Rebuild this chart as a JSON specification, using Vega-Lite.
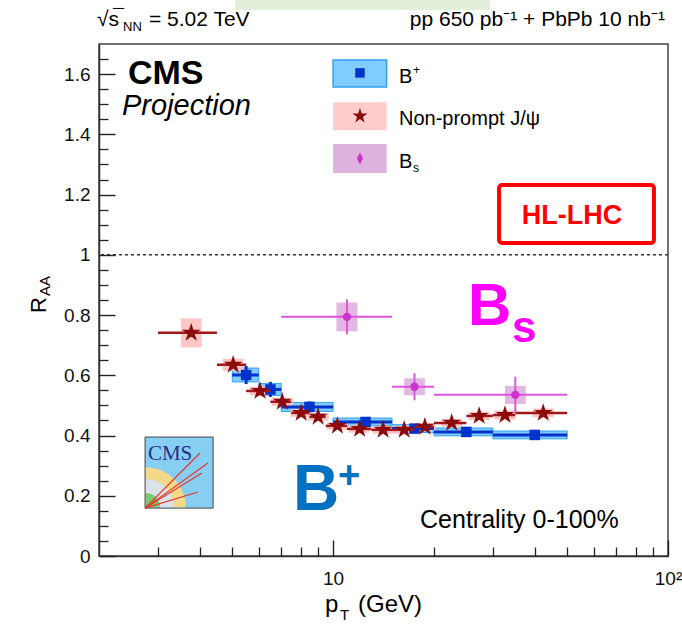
{
"$schema":"https://vega.github.io/schema/vega-lite/v6.json",
"width":569,"height":512,
"autosize":{"type":"none"},
"padding":{"left":99,"top":44,"right":14,"bottom":70},
"background":"white",
"config":{"view":{"stroke":"#444","strokeWidth":1.5},"font":"Liberation Sans"},
"data":{"values":[{}]},
"datasets":{
"bplus":[
{"pt":5.5,"lo":5,"hi":6,"y":0.601,"stat_lo":0.571,"stat_hi":0.631,"sys_lo":0.578,"sys_hi":0.624},
{"pt":6.5,"lo":6,"hi":7,"y":0.553,"stat_lo":0.528,"stat_hi":0.578,"sys_lo":0.533,"sys_hi":0.573},
{"pt":8.5,"lo":7,"hi":10,"y":0.495,"stat_lo":0.477,"stat_hi":0.513,"sys_lo":0.480,"sys_hi":0.510},
{"pt":12.5,"lo":10,"hi":15,"y":0.445,"stat_lo":0.433,"stat_hi":0.457,"sys_lo":0.432,"sys_hi":0.458},
{"pt":17.5,"lo":15,"hi":20,"y":0.423,"stat_lo":0.412,"stat_hi":0.434,"sys_lo":0.410,"sys_hi":0.436},
{"pt":25,"lo":20,"hi":30,"y":0.412,"stat_lo":0.401,"stat_hi":0.423,"sys_lo":0.399,"sys_hi":0.425},
{"pt":40,"lo":30,"hi":50,"y":0.402,"stat_lo":0.386,"stat_hi":0.418,"sys_lo":0.389,"sys_hi":0.415}
],
"jpsi":[
{"pt":3.77,"lo":3.0,"hi":4.5,"y":0.741,"stat_lo":0.728,"stat_hi":0.754,"sys_lo":0.693,"sys_hi":0.789,"box_lo":3.51,"box_hi":4.05},
{"pt":5.03,"lo":4.5,"hi":5.5,"y":0.635,"stat_lo":0.625,"stat_hi":0.645,"sys_lo":0.615,"sys_hi":0.655,"box_lo":4.68,"box_hi":5.41},
{"pt":6.05,"lo":5.5,"hi":6.5,"y":0.548,"stat_lo":0.539,"stat_hi":0.557,"sys_lo":0.533,"sys_hi":0.563,"box_lo":5.63,"box_hi":6.5},
{"pt":7.05,"lo":6.5,"hi":7.5,"y":0.512,"stat_lo":0.504,"stat_hi":0.520,"sys_lo":0.498,"sys_hi":0.526,"box_lo":6.56,"box_hi":7.58},
{"pt":8.03,"lo":7.5,"hi":8.5,"y":0.475,"stat_lo":0.467,"stat_hi":0.483,"sys_lo":0.462,"sys_hi":0.488,"box_lo":7.47,"box_hi":8.63},
{"pt":9.02,"lo":8.5,"hi":9.5,"y":0.462,"stat_lo":0.455,"stat_hi":0.469,"sys_lo":0.449,"sys_hi":0.475,"box_lo":8.39,"box_hi":9.7},
{"pt":10.3,"lo":9.5,"hi":11,"y":0.432,"stat_lo":0.425,"stat_hi":0.439,"sys_lo":0.419,"sys_hi":0.445,"box_lo":9.58,"box_hi":11.07},
{"pt":12.0,"lo":11,"hi":13,"y":0.422,"stat_lo":0.415,"stat_hi":0.429,"sys_lo":0.409,"sys_hi":0.435,"box_lo":11.16,"box_hi":12.9},
{"pt":14.1,"lo":13,"hi":15,"y":0.419,"stat_lo":0.412,"stat_hi":0.426,"sys_lo":0.406,"sys_hi":0.432,"box_lo":13.1,"box_hi":15.2},
{"pt":16.3,"lo":15,"hi":17.5,"y":0.419,"stat_lo":0.412,"stat_hi":0.426,"sys_lo":0.406,"sys_hi":0.432,"box_lo":15.2,"box_hi":17.5},
{"pt":18.8,"lo":17.5,"hi":20,"y":0.429,"stat_lo":0.421,"stat_hi":0.437,"sys_lo":0.416,"sys_hi":0.442,"box_lo":17.5,"box_hi":20.2},
{"pt":22.6,"lo":20,"hi":25,"y":0.442,"stat_lo":0.434,"stat_hi":0.450,"sys_lo":0.429,"sys_hi":0.455,"box_lo":21.0,"box_hi":24.3},
{"pt":27.3,"lo":25,"hi":30,"y":0.465,"stat_lo":0.456,"stat_hi":0.474,"sys_lo":0.451,"sys_hi":0.479,"box_lo":25.4,"box_hi":29.3},
{"pt":32.6,"lo":30,"hi":35,"y":0.468,"stat_lo":0.458,"stat_hi":0.478,"sys_lo":0.453,"sys_hi":0.483,"box_lo":30.3,"box_hi":35.0},
{"pt":42.4,"lo":35,"hi":50,"y":0.475,"stat_lo":0.463,"stat_hi":0.487,"sys_lo":0.460,"sys_hi":0.490,"box_lo":39.4,"box_hi":45.6}
],
"bs":[
{"pt":11,"lo":7,"hi":15,"y":0.794,"stat_lo":0.736,"stat_hi":0.852,"sys_lo":0.746,"sys_hi":0.842,"box_lo":10.23,"box_hi":11.83},
{"pt":17.5,"lo":15,"hi":20,"y":0.562,"stat_lo":0.517,"stat_hi":0.607,"sys_lo":0.534,"sys_hi":0.590,"box_lo":16.3,"box_hi":18.8},
{"pt":35,"lo":20,"hi":50,"y":0.535,"stat_lo":0.475,"stat_hi":0.595,"sys_lo":0.505,"sys_hi":0.565,"box_lo":32.6,"box_hi":37.6}
],
"tracks":[
{"x0":2.745,"y0":0.159,"x1":4.005,"y1":0.342},
{"x0":2.745,"y0":0.159,"x1":4.23,"y1":0.309},
{"x0":2.745,"y0":0.159,"x1":4.06,"y1":0.2756},
{"x0":2.745,"y0":0.159,"x1":3.95,"y1":0.2125}
]
},
"resolve":{"axis":{"x":"independent","y":"independent"}},
"layer":[
{"mark":{"type":"rect","fill":"#E2EFDA"},"encoding":{"x":{"datum":5.1,"type":"quantitative","scale":{"type":"log","domain":[2,100],"nice":false},"axis":null},"x2":{"datum":29.4},"y":{"datum":1.846,"type":"quantitative","scale":{"domain":[0,1.7],"nice":false,"zero":false},"axis":null},"y2":{"datum":1.813}}},
{"data":{"name":"bplus"},"mark":{"type":"rect","fill":"#80CCFF","stroke":"#30A0F0","strokeWidth":1},"encoding":{"x":{"field":"lo","type":"quantitative","scale":{"type":"log","domain":[2,100],"nice":false},"axis":null},"x2":{"field":"hi"},"y":{"field":"sys_lo","type":"quantitative","scale":{"domain":[0,1.7],"nice":false,"zero":false},"axis":null},"y2":{"field":"sys_hi"}}},
{"data":{"name":"jpsi"},"mark":{"type":"rect","fill":"#FFC0C0","opacity":0.9},"encoding":{"x":{"field":"box_lo","type":"quantitative","scale":{"type":"log","domain":[2,100],"nice":false},"axis":null},"x2":{"field":"box_hi"},"y":{"field":"sys_lo","type":"quantitative","scale":{"domain":[0,1.7],"nice":false,"zero":false},"axis":null},"y2":{"field":"sys_hi"}}},
{"data":{"name":"bs"},"mark":{"type":"rect","fill":"#DDAADD","opacity":0.85},"encoding":{"x":{"field":"box_lo","type":"quantitative","scale":{"type":"log","domain":[2,100],"nice":false},"axis":null},"x2":{"field":"box_hi"},"y":{"field":"sys_lo","type":"quantitative","scale":{"domain":[0,1.7],"nice":false,"zero":false},"axis":null},"y2":{"field":"sys_hi"}}},
{"mark":{"type":"rule","color":"#333","strokeDash":[3,3],"strokeWidth":1.5},"encoding":{"y":{"datum":1,"type":"quantitative","scale":{"domain":[0,1.7],"nice":false,"zero":false},"axis":null}}},
{"data":{"name":"bplus"},"mark":{"type":"rule","color":"#0033CC","strokeWidth":3},"encoding":{"x":{"field":"lo","type":"quantitative","scale":{"type":"log","domain":[2,100],"nice":false},"axis":null},"x2":{"field":"hi"},"y":{"field":"y","type":"quantitative","scale":{"domain":[0,1.7],"nice":false,"zero":false},"axis":null}}},
{"data":{"name":"bplus"},"mark":{"type":"rule","color":"#0033CC","strokeWidth":3},"encoding":{"x":{"field":"pt","type":"quantitative","scale":{"type":"log","domain":[2,100],"nice":false},"axis":null},"y":{"field":"stat_lo","type":"quantitative","scale":{"domain":[0,1.7],"nice":false,"zero":false},"axis":null},"y2":{"field":"stat_hi"}}},
{"data":{"name":"bplus"},"mark":{"type":"point","shape":"square","filled":true,"size":110,"color":"#0033CC","opacity":1},"encoding":{"x":{"field":"pt","type":"quantitative","scale":{"type":"log","domain":[2,100],"nice":false},"axis":null},"y":{"field":"y","type":"quantitative","scale":{"domain":[0,1.7],"nice":false,"zero":false},"axis":null}}},
{"data":{"name":"jpsi"},"mark":{"type":"rule","color":"#A01818","strokeWidth":2.5},"encoding":{"x":{"field":"lo","type":"quantitative","scale":{"type":"log","domain":[2,100],"nice":false},"axis":null},"x2":{"field":"hi"},"y":{"field":"y","type":"quantitative","scale":{"domain":[0,1.7],"nice":false,"zero":false},"axis":null}}},
{"data":{"name":"jpsi"},"mark":{"type":"rule","color":"#A01818","strokeWidth":2.5},"encoding":{"x":{"field":"pt","type":"quantitative","scale":{"type":"log","domain":[2,100],"nice":false},"axis":null},"y":{"field":"stat_lo","type":"quantitative","scale":{"domain":[0,1.7],"nice":false,"zero":false},"axis":null},"y2":{"field":"stat_hi"}}},
{"data":{"name":"jpsi"},"mark":{"type":"point","shape":"M0,-1L0.2245,-0.309L0.951,-0.309L0.3633,0.118L0.5878,0.809L0,0.382L-0.5878,0.809L-0.3633,0.118L-0.951,-0.309L-0.2245,-0.309Z","filled":true,"size":380,"color":"#8B0A0A","opacity":1},"encoding":{"x":{"field":"pt","type":"quantitative","scale":{"type":"log","domain":[2,100],"nice":false},"axis":null},"y":{"field":"y","type":"quantitative","scale":{"domain":[0,1.7],"nice":false,"zero":false},"axis":null}}},
{"data":{"name":"bs"},"mark":{"type":"rule","color":"#DD55DD","strokeWidth":2},"encoding":{"x":{"field":"lo","type":"quantitative","scale":{"type":"log","domain":[2,100],"nice":false},"axis":null},"x2":{"field":"hi"},"y":{"field":"y","type":"quantitative","scale":{"domain":[0,1.7],"nice":false,"zero":false},"axis":null}}},
{"data":{"name":"bs"},"mark":{"type":"rule","color":"#DD55DD","strokeWidth":2},"encoding":{"x":{"field":"pt","type":"quantitative","scale":{"type":"log","domain":[2,100],"nice":false},"axis":null},"y":{"field":"stat_lo","type":"quantitative","scale":{"domain":[0,1.7],"nice":false,"zero":false},"axis":null},"y2":{"field":"stat_hi"}}},
{"data":{"name":"bs"},"mark":{"type":"point","shape":"circle","filled":true,"size":70,"color":"#CC33CC","opacity":1},"encoding":{"x":{"field":"pt","type":"quantitative","scale":{"type":"log","domain":[2,100],"nice":false},"axis":null},"y":{"field":"y","type":"quantitative","scale":{"domain":[0,1.7],"nice":false,"zero":false},"axis":null}}},
{"data":{"name":"bs"},"mark":{"type":"point","opacity":0},"encoding":{"x":{"field":"pt","type":"quantitative","scale":{"type":"log","domain":[2,100],"nice":false},"axis":{"orient":"bottom","values":[10,100],"labelExpr":"datum.value >= 100 ? '10²' : '10'","title":null,"grid":false,"ticks":false,"tickSize":0,"domainColor":"#333","domainWidth":1.5,"labelPadding":13,"labelFontSize":19,"labelFont":"Liberation Sans","labelColor":"#111","labelFlush":false,"labelOverlap":false}},"y":{"field":"y","type":"quantitative","scale":{"domain":[0,1.7],"nice":false,"zero":false},"axis":{"orient":"left","values":[0,0.2,0.4,0.6,0.8,1,1.2,1.4,1.6],"format":"~g","title":null,"grid":false,"ticks":false,"tickSize":0,"domainColor":"#333","domainWidth":1.5,"labelPadding":9,"labelFontSize":19,"labelFont":"Liberation Sans","labelColor":"#111","labelFlush":false,"labelOverlap":false}}}},
{"data":{"name":"bs"},"mark":{"type":"point","opacity":0},"encoding":{"x":{"field":"pt","type":"quantitative","scale":{"type":"log","domain":[2,100],"nice":false},"axis":{"orient":"top","offset":-512,"values":[10,100],"labels":false,"domain":false,"title":null,"grid":false,"zindex":2,"tickSize":16,"tickWidth":1.4,"tickColor":"#222"}},"y":{"field":"y","type":"quantitative","scale":{"domain":[0,1.7],"nice":false,"zero":false},"axis":{"orient":"right","offset":-569,"values":[0,0.2,0.4,0.6,0.8,1,1.2,1.4,1.6],"labels":false,"domain":false,"title":null,"grid":false,"zindex":2,"tickSize":16,"tickWidth":1.4,"tickColor":"#222"}}}},
{"data":{"name":"bs"},"mark":{"type":"point","opacity":0},"encoding":{"x":{"field":"pt","type":"quantitative","scale":{"type":"log","domain":[2,100],"nice":false},"axis":{"orient":"top","offset":-512,"values":[3,4,5,6,7,8,9,20,30,40,50,60,70,80,90],"labels":false,"domain":false,"title":null,"grid":false,"zindex":2,"tickSize":9,"tickWidth":1.3,"tickColor":"#222"}},"y":{"field":"y","type":"quantitative","scale":{"domain":[0,1.7],"nice":false,"zero":false},"axis":{"orient":"right","offset":-569,"values":[0.05,0.1,0.15,0.25,0.3,0.35,0.45,0.5,0.55,0.65,0.7,0.75,0.85,0.9,0.95,1.05,1.1,1.15,1.25,1.3,1.35,1.45,1.5,1.55,1.65],"labels":false,"domain":false,"title":null,"grid":false,"zindex":2,"tickSize":9,"tickWidth":1.3,"tickColor":"#222"}}}},
{"mark":{"type":"text","text":"CMS","fontSize":34,"fontWeight":"bold","align":"left","baseline":"alphabetic","color":"#000"},"encoding":{"x":{"datum":2.44,"type":"quantitative","scale":{"type":"log","domain":[2,100],"nice":false},"axis":null},"y":{"datum":1.567,"type":"quantitative","scale":{"domain":[0,1.7],"nice":false,"zero":false},"axis":null}}},
{"mark":{"type":"text","text":"Projection","fontSize":29,"fontStyle":"italic","align":"left","baseline":"alphabetic","color":"#000"},"encoding":{"x":{"datum":2.343,"type":"quantitative","scale":{"type":"log","domain":[2,100],"nice":false},"axis":null},"y":{"datum":1.464,"type":"quantitative","scale":{"domain":[0,1.7],"nice":false,"zero":false},"axis":null}}},
{"mark":{"type":"rect","fill":"#80CCFF","stroke":"#30A0F0","strokeWidth":1.5},"encoding":{"x":{"datum":10.0,"type":"quantitative","scale":{"type":"log","domain":[2,100],"nice":false},"axis":null},"x2":{"datum":14.45},"y":{"datum":1.557,"type":"quantitative","scale":{"domain":[0,1.7],"nice":false,"zero":false},"axis":null},"y2":{"datum":1.647}}},
{"mark":{"type":"rect","fill":"#FFCCCC"},"encoding":{"x":{"datum":10.0,"type":"quantitative","scale":{"type":"log","domain":[2,100],"nice":false},"axis":null},"x2":{"datum":14.45},"y":{"datum":1.414,"type":"quantitative","scale":{"domain":[0,1.7],"nice":false,"zero":false},"axis":null},"y2":{"datum":1.507}}},
{"mark":{"type":"rect","fill":"#DDB3DD"},"encoding":{"x":{"datum":10.0,"type":"quantitative","scale":{"type":"log","domain":[2,100],"nice":false},"axis":null},"x2":{"datum":14.45},"y":{"datum":1.272,"type":"quantitative","scale":{"domain":[0,1.7],"nice":false,"zero":false},"axis":null},"y2":{"datum":1.368}}},
{"mark":{"type":"point","shape":"square","filled":true,"size":90,"color":"#0033CC","opacity":1},"encoding":{"x":{"datum":12.03,"type":"quantitative","scale":{"type":"log","domain":[2,100],"nice":false},"axis":null},"y":{"datum":1.604,"type":"quantitative","scale":{"domain":[0,1.7],"nice":false,"zero":false},"axis":null}}},
{"mark":{"type":"point","shape":"M0,-1L0.2245,-0.309L0.951,-0.309L0.3633,0.118L0.5878,0.809L0,0.382L-0.5878,0.809L-0.3633,0.118L-0.951,-0.309L-0.2245,-0.309Z","filled":true,"size":250,"color":"#8B0A0A","opacity":1},"encoding":{"x":{"datum":12.03,"type":"quantitative","scale":{"type":"log","domain":[2,100],"nice":false},"axis":null},"y":{"datum":1.461,"type":"quantitative","scale":{"domain":[0,1.7],"nice":false,"zero":false},"axis":null}}},
{"mark":{"type":"point","shape":"M0,-1L0.5,0L0,1L-0.5,0Z","filled":true,"size":150,"color":"#CC33CC","opacity":1},"encoding":{"x":{"datum":12.03,"type":"quantitative","scale":{"type":"log","domain":[2,100],"nice":false},"axis":null},"y":{"datum":1.320,"type":"quantitative","scale":{"domain":[0,1.7],"nice":false,"zero":false},"axis":null}}},
{"mark":{"type":"text","text":"B","fontSize":20,"align":"left","baseline":"alphabetic","color":"#000"},"encoding":{"x":{"datum":15.73,"type":"quantitative","scale":{"type":"log","domain":[2,100],"nice":false},"axis":null},"y":{"datum":1.570,"type":"quantitative","scale":{"domain":[0,1.7],"nice":false,"zero":false},"axis":null}}},
{"mark":{"type":"text","text":"+","fontSize":12,"align":"left","baseline":"alphabetic","color":"#000"},"encoding":{"x":{"datum":17.32,"type":"quantitative","scale":{"type":"log","domain":[2,100],"nice":false},"axis":null},"y":{"datum":1.600,"type":"quantitative","scale":{"domain":[0,1.7],"nice":false,"zero":false},"axis":null}}},
{"mark":{"type":"text","text":"Non-prompt J/ψ","fontSize":20,"align":"left","baseline":"alphabetic","color":"#000"},"encoding":{"x":{"datum":15.73,"type":"quantitative","scale":{"type":"log","domain":[2,100],"nice":false},"axis":null},"y":{"datum":1.431,"type":"quantitative","scale":{"domain":[0,1.7],"nice":false,"zero":false},"axis":null}}},
{"mark":{"type":"text","text":"B","fontSize":20,"align":"left","baseline":"alphabetic","color":"#000"},"encoding":{"x":{"datum":15.73,"type":"quantitative","scale":{"type":"log","domain":[2,100],"nice":false},"axis":null},"y":{"datum":1.288,"type":"quantitative","scale":{"domain":[0,1.7],"nice":false,"zero":false},"axis":null}}},
{"mark":{"type":"text","text":"s","fontSize":12,"align":"left","baseline":"alphabetic","color":"#000"},"encoding":{"x":{"datum":17.32,"type":"quantitative","scale":{"type":"log","domain":[2,100],"nice":false},"axis":null},"y":{"datum":1.275,"type":"quantitative","scale":{"domain":[0,1.7],"nice":false,"zero":false},"axis":null}}},
{"mark":{"type":"rect","fill":"white","fillOpacity":0,"stroke":"#FF0000","strokeWidth":4,"cornerRadius":3},"encoding":{"x":{"datum":31.3,"type":"quantitative","scale":{"type":"log","domain":[2,100],"nice":false},"axis":null},"x2":{"datum":90.8},"y":{"datum":1.039,"type":"quantitative","scale":{"domain":[0,1.7],"nice":false,"zero":false},"axis":null},"y2":{"datum":1.232}}},
{"mark":{"type":"text","text":"HL-LHC","fontSize":27,"fontWeight":"bold","align":"center","baseline":"alphabetic","color":"#FF0000"},"encoding":{"x":{"datum":51.7,"type":"quantitative","scale":{"type":"log","domain":[2,100],"nice":false},"axis":null},"y":{"datum":1.102,"type":"quantitative","scale":{"domain":[0,1.7],"nice":false,"zero":false},"axis":null}}},
{"mark":{"type":"text","text":"B","fontSize":60,"fontWeight":"bold","align":"left","baseline":"alphabetic","color":"#FF00FF"},"encoding":{"x":{"datum":25.27,"type":"quantitative","scale":{"type":"log","domain":[2,100],"nice":false},"axis":null},"y":{"datum":0.767,"type":"quantitative","scale":{"domain":[0,1.7],"nice":false,"zero":false},"axis":null}}},
{"mark":{"type":"text","text":"s","fontSize":44,"fontWeight":"bold","align":"left","baseline":"alphabetic","color":"#FF00FF"},"encoding":{"x":{"datum":34.2,"type":"quantitative","scale":{"type":"log","domain":[2,100],"nice":false},"axis":null},"y":{"datum":0.7105,"type":"quantitative","scale":{"domain":[0,1.7],"nice":false,"zero":false},"axis":null}}},
{"mark":{"type":"text","text":"B","fontSize":64,"fontWeight":"bold","align":"left","baseline":"alphabetic","color":"#0070C0"},"encoding":{"x":{"datum":7.59,"type":"quantitative","scale":{"type":"log","domain":[2,100],"nice":false},"axis":null},"y":{"datum":0.1527,"type":"quantitative","scale":{"domain":[0,1.7],"nice":false,"zero":false},"axis":null}}},
{"mark":{"type":"text","text":"+","fontSize":38,"fontWeight":"bold","align":"left","baseline":"alphabetic","color":"#0070C0"},"encoding":{"x":{"datum":10.35,"type":"quantitative","scale":{"type":"log","domain":[2,100],"nice":false},"axis":null},"y":{"datum":0.226,"type":"quantitative","scale":{"domain":[0,1.7],"nice":false,"zero":false},"axis":null}}},
{"mark":{"type":"text","text":"Centrality 0-100%","fontSize":25,"align":"left","baseline":"alphabetic","color":"#000"},"encoding":{"x":{"datum":18.18,"type":"quantitative","scale":{"type":"log","domain":[2,100],"nice":false},"axis":null},"y":{"datum":0.093,"type":"quantitative","scale":{"domain":[0,1.7],"nice":false,"zero":false},"axis":null}}},
{"mark":{"type":"rect","fill":"#86CFF2","stroke":"#444","strokeWidth":1},"encoding":{"x":{"datum":2.745,"type":"quantitative","scale":{"type":"log","domain":[2,100],"nice":false},"axis":null},"x2":{"datum":4.383},"y":{"datum":0.159,"type":"quantitative","scale":{"domain":[0,1.7],"nice":false,"zero":false},"axis":null},"y2":{"datum":0.395}}},
{"mark":{"type":"arc","theta":0,"theta2":1.5708,"outerRadius":40,"innerRadius":28,"fill":"#F5D98A"},"encoding":{"x":{"datum":2.76,"type":"quantitative","scale":{"type":"log","domain":[2,100],"nice":false},"axis":null},"y":{"datum":0.162,"type":"quantitative","scale":{"domain":[0,1.7],"nice":false,"zero":false},"axis":null}}},
{"mark":{"type":"arc","theta":0,"theta2":1.5708,"outerRadius":28,"innerRadius":14,"fill":"#DCE2EA"},"encoding":{"x":{"datum":2.76,"type":"quantitative","scale":{"type":"log","domain":[2,100],"nice":false},"axis":null},"y":{"datum":0.162,"type":"quantitative","scale":{"domain":[0,1.7],"nice":false,"zero":false},"axis":null}}},
{"mark":{"type":"arc","theta":0,"theta2":1.5708,"outerRadius":14,"innerRadius":0,"fill":"#7CC86E"},"encoding":{"x":{"datum":2.76,"type":"quantitative","scale":{"type":"log","domain":[2,100],"nice":false},"axis":null},"y":{"datum":0.162,"type":"quantitative","scale":{"domain":[0,1.7],"nice":false,"zero":false},"axis":null}}},
{"data":{"name":"tracks"},"mark":{"type":"rule","color":"#E8352A","strokeWidth":1.2},"encoding":{"x":{"field":"x0","type":"quantitative","scale":{"type":"log","domain":[2,100],"nice":false},"axis":null},"x2":{"field":"x1"},"y":{"field":"y0","type":"quantitative","scale":{"domain":[0,1.7],"nice":false,"zero":false},"axis":null},"y2":{"field":"y1"}}},
{"mark":{"type":"text","text":"CMS","fontSize":21,"font":"Liberation Serif","align":"left","baseline":"alphabetic","color":"#2B2F8A"},"encoding":{"x":{"datum":2.80,"type":"quantitative","scale":{"type":"log","domain":[2,100],"nice":false},"axis":null},"y":{"datum":0.319,"type":"quantitative","scale":{"domain":[0,1.7],"nice":false,"zero":false},"axis":null}}},
{"mark":{"type":"text","text":"√s","fontSize":21,"align":"left","baseline":"alphabetic","color":"#000"},"encoding":{"x":{"datum":1.972,"type":"quantitative","scale":{"type":"log","domain":[2,100],"nice":false},"axis":null},"y":{"datum":1.760,"type":"quantitative","scale":{"domain":[0,1.7],"nice":false,"zero":false},"axis":null}}},
{"mark":{"type":"rule","color":"#000","strokeWidth":1},"encoding":{"x":{"datum":2.2,"type":"quantitative","scale":{"type":"log","domain":[2,100],"nice":false},"axis":null},"x2":{"datum":2.38},"y":{"datum":1.818,"type":"quantitative","scale":{"domain":[0,1.7],"nice":false,"zero":false},"axis":null}}},
{"mark":{"type":"text","text":"NN","fontSize":13,"align":"left","baseline":"alphabetic","color":"#000"},"encoding":{"x":{"datum":2.36,"type":"quantitative","scale":{"type":"log","domain":[2,100],"nice":false},"axis":null},"y":{"datum":1.743,"type":"quantitative","scale":{"domain":[0,1.7],"nice":false,"zero":false},"axis":null}}},
{"mark":{"type":"text","text":"= 5.02 TeV","fontSize":21,"align":"left","baseline":"alphabetic","color":"#000"},"encoding":{"x":{"datum":2.82,"type":"quantitative","scale":{"type":"log","domain":[2,100],"nice":false},"axis":null},"y":{"datum":1.760,"type":"quantitative","scale":{"domain":[0,1.7],"nice":false,"zero":false},"axis":null}}},
{"mark":{"type":"text","text":"pp 650 pb⁻¹ + PbPb 10 nb⁻¹","fontSize":21,"align":"right","baseline":"alphabetic","color":"#000"},"encoding":{"x":{"datum":97.9,"type":"quantitative","scale":{"type":"log","domain":[2,100],"nice":false},"axis":null},"y":{"datum":1.760,"type":"quantitative","scale":{"domain":[0,1.7],"nice":false,"zero":false},"axis":null}}},
{"mark":{"type":"text","text":"p","fontSize":24,"align":"left","baseline":"alphabetic","color":"#000"},"encoding":{"x":{"datum":9.46,"type":"quantitative","scale":{"type":"log","domain":[2,100],"nice":false},"axis":null},"y":{"datum":-0.186,"type":"quantitative","scale":{"domain":[0,1.7],"nice":false,"zero":false},"axis":null}}},
{"mark":{"type":"text","text":"T","fontSize":15,"align":"left","baseline":"alphabetic","color":"#000"},"encoding":{"x":{"datum":10.49,"type":"quantitative","scale":{"type":"log","domain":[2,100],"nice":false},"axis":null},"y":{"datum":-0.2125,"type":"quantitative","scale":{"domain":[0,1.7],"nice":false,"zero":false},"axis":null}}},
{"mark":{"type":"text","text":"(GeV)","fontSize":24,"align":"left","baseline":"alphabetic","color":"#000"},"encoding":{"x":{"datum":11.87,"type":"quantitative","scale":{"type":"log","domain":[2,100],"nice":false},"axis":null},"y":{"datum":-0.186,"type":"quantitative","scale":{"domain":[0,1.7],"nice":false,"zero":false},"axis":null}}},
{"mark":{"type":"text","text":"R","fontSize":22,"angle":270,"align":"left","baseline":"alphabetic","color":"#000"},"encoding":{"x":{"datum":1.389,"type":"quantitative","scale":{"type":"log","domain":[2,100],"nice":false},"axis":null},"y":{"datum":0.807,"type":"quantitative","scale":{"domain":[0,1.7],"nice":false,"zero":false},"axis":null}}},
{"mark":{"type":"text","text":"AA","fontSize":15,"angle":270,"align":"left","baseline":"alphabetic","color":"#000"},"encoding":{"x":{"datum":1.428,"type":"quantitative","scale":{"type":"log","domain":[2,100],"nice":false},"axis":null},"y":{"datum":0.863,"type":"quantitative","scale":{"domain":[0,1.7],"nice":false,"zero":false},"axis":null}}}
]
}
